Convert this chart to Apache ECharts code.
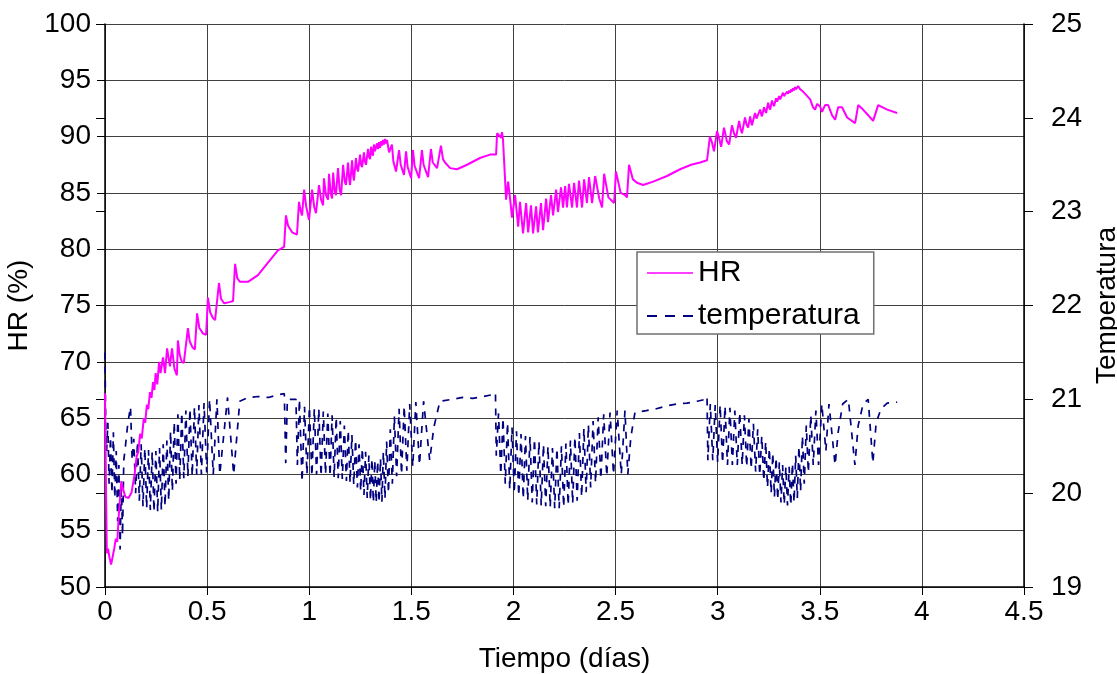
<!DOCTYPE html>
<html>
<head>
<meta charset="utf-8">
<title>HR y temperatura</title>
<script src="https://cdn.jsdelivr.net/npm/echarts@6/dist/echarts.min.js"></script>
<style>
  html, body { margin: 0; padding: 0; background: #ffffff; }
  #chart { width: 1117px; height: 674px; }
</style>
</head>
<body>
<div id="chart"></div>
<script>
// Humedad relativa (%) frente al tiempo (días)
const hrPoints = [
  [0.000,67.2],[0.004,60.0],[0.009,53.0],[0.015,53.4],[0.022,52.6],[0.030,52.0],[0.037,51.9],[0.045,53.4],
  [0.053,54.3],[0.060,54.0],[0.068,56.5],[0.080,59.4],[0.090,58.6],[0.100,58.0],[0.115,57.9],[0.130,58.4],
  [0.145,60.0],[0.155,61.6],[0.163,62.0],[0.172,63.6],[0.180,63.2],[0.190,65.0],[0.197,64.6],[0.205,66.2],
  [0.212,65.8],[0.220,67.3],[0.228,66.8],[0.235,68.2],[0.242,67.5],[0.248,69.0],[0.256,68.0],[0.265,70.0],
  [0.272,69.0],[0.284,70.4],[0.294,69.0],[0.304,71.2],[0.318,69.6],[0.328,71.2],[0.340,69.4],[0.352,68.8],
  [0.357,71.9],[0.366,70.6],[0.376,70.0],[0.386,69.9],[0.406,73.0],[0.415,71.8],[0.428,71.3],[0.440,71.1],
  [0.451,74.3],[0.462,73.0],[0.480,72.5],[0.495,72.4],[0.504,75.7],[0.515,74.4],[0.528,73.9],[0.539,73.7],
  [0.558,77.0],[0.568,75.6],[0.583,75.2],[0.610,75.3],[0.627,75.4],[0.637,78.7],[0.648,77.4],[0.661,77.1],
  [0.700,77.1],[0.749,77.7],[0.798,78.8],[0.847,79.9],[0.877,80.2],
  [0.886,83.0],[0.896,82.1],[0.916,81.5],[0.940,81.3],[0.950,84.2],[0.958,83.4],[0.965,83.0],[0.975,85.3],
  [0.985,83.8],[0.999,82.6],[1.014,85.3],[1.024,83.8],[1.033,83.2],[1.048,85.7],[1.058,84.4],[1.068,83.9],
  [1.072,86.3],[1.082,84.8],[1.092,84.4],[1.097,86.7],[1.105,85.0],[1.112,84.5],[1.117,86.8],[1.125,85.2],
  [1.131,84.8],[1.141,87.2],[1.149,85.3],[1.156,84.8],[1.166,87.5],[1.174,86.0],[1.180,85.7],[1.190,87.7],
  [1.196,86.2],[1.200,85.7],[1.210,87.9],[1.215,86.6],[1.219,86.1],[1.229,88.1],[1.234,87.2],[1.239,86.9],
  [1.249,88.4],[1.254,87.5],[1.259,87.3],[1.268,88.6],[1.273,87.8],[1.278,87.5],[1.288,88.9],[1.293,88.2],
  [1.298,88.0],[1.303,89.1],[1.308,88.5],[1.312,88.3],[1.317,89.3],[1.322,88.7],[1.327,88.6],[1.332,89.4],
  [1.337,88.9],[1.342,89.5],[1.347,89.0],[1.352,89.6],[1.357,89.2],[1.361,89.7],[1.366,89.3],[1.371,89.8],
  [1.376,89.4],[1.381,89.7],[1.391,88.6],[1.405,89.3],[1.412,87.8],[1.425,86.9],[1.440,88.8],[1.448,87.5],
  [1.464,86.6],[1.474,88.7],[1.482,87.3],[1.499,86.3],[1.508,88.8],[1.516,87.4],[1.538,86.3],[1.552,88.8],
  [1.560,87.5],[1.582,86.4],[1.596,88.9],[1.605,87.7],[1.626,87.2],[1.645,89.2],[1.655,88.0],[1.665,87.7],
  [1.690,87.2],[1.724,87.1],[1.773,87.5],[1.836,88.1],[1.885,88.4],[1.915,88.4],
  [1.920,90.3],[1.929,90.4],[1.939,89.9],[1.944,90.4],[1.949,89.7],[1.964,84.4],[1.974,86.0],[1.984,84.4],
  [1.993,82.8],[2.008,84.8],[2.023,82.0],[2.032,84.2],[2.047,81.4],[2.062,84.1],[2.072,81.5],[2.086,83.9],
  [2.096,81.4],[2.111,83.8],[2.120,81.5],[2.135,84.1],[2.145,81.7],[2.160,84.5],[2.169,82.4],[2.184,84.8],
  [2.194,83.0],[2.209,85.3],[2.218,83.3],[2.233,85.5],[2.243,83.7],[2.253,85.6],[2.262,83.7],[2.272,85.8],
  [2.287,83.7],[2.297,85.9],[2.311,83.7],[2.321,86.1],[2.336,83.7],[2.346,86.2],[2.360,84.1],[2.370,86.4],
  [2.385,84.1],[2.400,86.5],[2.420,84.5],[2.434,83.7],[2.444,86.7],[2.465,84.6],[2.493,84.1],[2.502,86.9],
  [2.525,85.0],[2.547,84.8],[2.556,84.6],[2.566,87.5],[2.585,86.2],[2.605,85.9],[2.635,85.7],[2.684,86.0],
  [2.752,86.5],[2.816,87.1],[2.870,87.5],[2.914,87.7],[2.948,87.9],
  [2.962,90.0],[2.972,89.5],[2.982,88.7],[2.997,90.5],[3.005,90.0],[3.017,89.1],[3.031,90.8],[3.045,89.6],
  [3.056,89.3],[3.070,91.0],[3.080,90.3],[3.090,89.9],[3.105,91.4],[3.112,90.7],[3.119,90.3],[3.134,91.7],
  [3.141,91.1],[3.149,90.8],[3.159,91.8],[3.164,91.3],[3.168,91.0],[3.183,92.1],[3.190,91.6],[3.198,91.5],
  [3.208,92.4],[3.213,92.0],[3.217,91.8],[3.227,92.6],[3.232,92.3],[3.237,92.1],[3.247,93.0],[3.252,92.6],
  [3.257,92.4],[3.266,93.2],[3.271,92.9],[3.276,92.7],[3.286,93.4],[3.291,93.1],[3.296,93.0],[3.301,93.6],
  [3.306,93.3],[3.311,93.2],[3.320,93.9],[3.325,93.6],[3.330,93.5],[3.340,94.0],[3.345,93.8],[3.350,94.1],
  [3.355,93.9],[3.360,94.2],[3.364,94.0],[3.369,94.3],[3.374,94.1],[3.379,94.4],[3.384,94.2],[3.394,94.5],
  [3.404,94.2],[3.418,94.0],[3.433,93.7],[3.443,93.5],[3.453,93.3],[3.467,92.6],[3.477,92.4],[3.487,92.9],
  [3.501,92.7],[3.511,92.2],[3.526,92.8],[3.541,92.8],[3.560,91.9],[3.575,91.5],[3.590,92.6],[3.609,92.6],
  [3.634,91.7],[3.673,91.2],[3.688,92.8],[3.712,92.4],[3.737,91.9],[3.761,91.4],[3.786,92.8],[3.830,92.4],
  [3.879,92.1]
];

// Temperatura frente al tiempo (días)
const tempPoints = [
  [0.000,21.50],[0.003,20.80],[0.008,20.45],[0.014,20.75],[0.020,20.10],[0.027,20.60],[0.034,20.00],[0.041,20.65],
  [0.048,19.95],[0.055,20.45],[0.062,19.70],[0.068,20.30],[0.074,19.40],[0.080,20.10],[0.086,19.55],[0.092,20.35],
  [0.100,20.50],[0.112,20.75],[0.125,20.92],[0.133,20.35],[0.141,20.58],[0.150,20.00],[0.159,20.55],[0.168,19.92],
  [0.177,20.52],[0.186,19.86],[0.195,20.48],[0.204,19.84],[0.213,20.46],[0.222,19.82],[0.231,20.44],[0.240,19.80],
  [0.249,20.45],[0.258,19.80],[0.267,20.48],[0.276,19.82],[0.285,20.52],[0.294,19.86],[0.303,20.56],[0.312,19.92],
  [0.321,20.66],[0.330,20.02],[0.339,20.76],[0.348,20.10],[0.357,20.84],[0.366,20.14],[0.376,20.86],[0.386,20.16],
  [0.396,20.88],[0.406,20.18],[0.416,20.90],[0.427,20.18],[0.438,20.92],[0.449,20.20],[0.460,20.94],[0.472,20.20],
  [0.485,20.96],[0.498,20.22],[0.512,21.00],[0.530,20.20],[0.548,21.00],[0.562,20.20],[0.600,21.02],[0.630,20.20],
  [0.660,20.98],[0.700,21.02],[0.750,21.03],[0.800,21.02],[0.850,21.05],[0.878,21.06],
  [0.885,20.32],[0.893,21.00],[0.935,21.00],[0.942,20.30],[0.952,21.00],[0.965,20.12],
  [0.977,20.92],[0.989,20.20],[1.001,20.92],[1.013,20.18],[1.025,20.90],[1.036,20.20],[1.047,20.90],[1.058,20.18],
  [1.069,20.87],[1.080,20.20],[1.091,20.85],[1.102,20.18],[1.112,20.83],[1.122,20.17],[1.132,20.81],[1.142,20.16],
  [1.152,20.77],[1.162,20.15],[1.172,20.72],[1.182,20.13],[1.191,20.67],[1.200,20.11],[1.209,20.62],[1.218,20.09],
  [1.227,20.57],[1.236,20.06],[1.244,20.52],[1.252,20.02],[1.260,20.48],[1.268,19.98],[1.276,20.44],[1.284,19.95],
  [1.292,20.40],[1.300,19.92],[1.307,20.37],[1.314,19.90],[1.321,20.35],[1.328,19.90],[1.335,20.34],[1.342,19.90],
  [1.349,20.37],[1.356,19.91],[1.363,20.44],[1.371,19.94],[1.379,20.55],[1.388,20.00],[1.397,20.68],[1.407,20.10],
  [1.417,20.82],[1.428,20.18],[1.440,20.90],[1.452,20.20],[1.465,20.93],[1.478,20.24],[1.492,20.95],[1.507,20.28],
  [1.522,20.97],[1.540,20.30],[1.560,20.98],[1.590,20.35],[1.610,20.70],[1.640,20.98],[1.700,21.00],[1.750,21.02],
  [1.800,21.01],[1.850,21.03],[1.900,21.05],[1.912,21.07],
  [1.916,20.40],[1.927,20.85],[1.938,20.20],[1.949,20.80],[1.960,20.10],[1.971,20.75],[1.982,20.04],[1.993,20.70],
  [2.004,20.00],[2.015,20.66],[2.026,19.97],[2.037,20.63],[2.048,19.94],[2.059,20.61],[2.070,19.92],[2.081,20.60],
  [2.092,19.90],[2.103,20.58],[2.114,19.88],[2.125,20.55],[2.136,19.87],[2.147,20.52],[2.158,19.86],[2.169,20.50],
  [2.180,19.85],[2.191,20.48],[2.202,19.84],[2.213,20.48],[2.224,19.84],[2.235,20.50],[2.246,19.85],[2.257,20.53],
  [2.268,19.87],[2.279,20.56],[2.290,19.89],[2.301,20.60],[2.312,19.92],[2.323,20.64],[2.334,19.96],[2.345,20.69],
  [2.356,20.01],[2.367,20.73],[2.378,20.06],[2.390,20.77],[2.402,20.11],[2.415,20.81],[2.428,20.15],[2.442,20.84],
  [2.457,20.18],[2.473,20.86],[2.490,20.20],[2.508,20.88],[2.528,20.20],[2.546,20.88],[2.560,20.20],[2.575,20.60],
  [2.595,20.86],[2.650,20.88],[2.700,20.90],[2.750,20.93],[2.800,20.95],[2.850,20.96],[2.900,20.98],[2.940,21.00],
  [2.948,21.03],
  [2.952,20.35],[2.964,20.95],[2.976,20.35],[2.988,20.94],[3.000,20.33],[3.012,20.94],[3.024,20.32],[3.036,20.93],
  [3.048,20.30],[3.060,20.91],[3.072,20.30],[3.084,20.88],[3.096,20.30],[3.108,20.86],[3.120,20.30],[3.131,20.83],
  [3.142,20.28],[3.153,20.79],[3.164,20.26],[3.175,20.74],[3.186,20.23],[3.196,20.68],[3.206,20.19],[3.216,20.61],
  [3.226,20.13],[3.235,20.55],[3.244,20.06],[3.253,20.48],[3.262,20.00],[3.270,20.43],[3.278,19.96],[3.286,20.38],
  [3.294,19.93],[3.302,20.33],[3.310,19.90],[3.318,20.30],[3.326,19.88],[3.334,20.28],[3.342,19.87],[3.350,20.28],
  [3.358,19.87],[3.366,20.32],[3.374,19.90],[3.382,20.40],[3.390,19.95],[3.398,20.50],[3.406,20.02],[3.415,20.61],
  [3.424,20.10],[3.434,20.72],[3.444,20.22],[3.456,20.83],[3.468,20.30],[3.481,20.88],[3.494,20.30],[3.510,20.95],
  [3.530,20.45],[3.545,20.95],[3.575,20.30],[3.590,20.65],[3.612,20.95],[3.640,21.00],[3.672,20.30],[3.688,20.72],
  [3.712,20.95],[3.737,21.00],[3.760,20.32],[3.776,20.75],[3.800,20.90],[3.830,20.96],[3.879,20.97]
];

const xRange = { min: 0, max: 4.5, step: 0.5 };
const hrRange = { min: 50, max: 100, step: 5 };
const tempRange = { min: 19, max: 25, step: 1 };

const FONT = '"Liberation Sans", Arial, sans-serif';
const labelStyle = { color: '#000', fontFamily: FONT, fontSize: 28 };

const chart = echarts.init(document.getElementById('chart'), null, { renderer: 'canvas' });

chart.setOption({
  animation: false,
  backgroundColor: '#ffffff',
  grid: {
    left: 105, right: 93, top: 24, bottom: 87,
    containLabel: false,
    outerBoundsMode: 'none'
  },
  legend: {
    orient: 'vertical',
    left: 637,
    top: 252,
    padding: [6, 14, 3, 9],
    itemGap: 13,
    itemWidth: 46,
    itemHeight: 14,
    icon: 'inherit',
    itemStyle: { opacity: 0 },
    backgroundColor: '#ffffff',
    borderColor: '#707070',
    borderWidth: 1.5,
    borderRadius: 0,
    textStyle: { color: '#000', fontFamily: FONT, fontSize: 30, lineHeight: 30 },
    data: [
      { name: 'HR', lineStyle: { width: 1.5 } },
      { name: 'temperatura', lineStyle: { width: 2, type: [10, 8] } }
    ]
  },
  xAxis: {
    type: 'value',
    min: xRange.min, max: xRange.max, interval: xRange.step,
    name: 'Tiempo (días)',
    nameLocation: 'middle',
    nameGap: 58,
    nameTextStyle: labelStyle,
    axisLine: { show: true, onZero: false, lineStyle: { color: '#000', width: 1.5 } },
    axisTick: { show: true, length: 8, lineStyle: { color: '#000', width: 1 } },
    axisLabel: Object.assign({ margin: 11 }, labelStyle),
    splitLine: { show: true, lineStyle: { color: '#404040', width: 1 } }
  },
  yAxis: [
    {
      type: 'value',
      position: 'left',
      min: hrRange.min, max: hrRange.max, interval: hrRange.step,
      name: 'HR (%)',
      nameLocation: 'middle',
      nameRotate: 90,
      nameGap: 72,
      nameTextStyle: labelStyle,
      axisLine: { show: true, onZero: false, lineStyle: { color: '#000', width: 1.5 } },
      axisTick: { show: true, length: 8, lineStyle: { color: '#000', width: 1 } },
      axisLabel: Object.assign({ margin: 14 }, labelStyle),
      splitLine: { show: true, lineStyle: { color: '#404040', width: 1 } }
    },
    {
      type: 'value',
      position: 'right',
      min: tempRange.min, max: tempRange.max, interval: tempRange.step,
      name: 'Temperatura',
      nameLocation: 'middle',
      nameRotate: 90,
      nameGap: 63,
      nameTextStyle: labelStyle,
      axisLine: { show: true, onZero: false, lineStyle: { color: '#000', width: 1.5 } },
      axisTick: { show: true, length: 9, lineStyle: { color: '#000', width: 1 } },
      axisLabel: Object.assign({ margin: 27 }, labelStyle),
      splitLine: { show: false }
    },
    {
      // inner half of the right-hand ticks
      type: 'value',
      position: 'right',
      min: tempRange.min, max: tempRange.max, interval: tempRange.step,
      axisLine: { show: false },
      axisTick: { show: true, inside: true, length: 9, lineStyle: { color: '#000', width: 1 } },
      axisLabel: { show: false },
      splitLine: { show: false }
    }
  ],
  series: [
    {
      name: 'HR',
      type: 'line',
      yAxisIndex: 0,
      data: hrPoints,
      symbol: 'none',
      showSymbol: false,
      smooth: false,
      color: '#ff00ff',
      lineStyle: { color: '#ff00ff', width: 2 },
      z: 3
    },
    {
      name: 'temperatura',
      type: 'line',
      yAxisIndex: 1,
      data: tempPoints,
      symbol: 'none',
      showSymbol: false,
      smooth: false,
      color: '#000080',
      lineStyle: { color: '#000080', width: 1.7, type: [7, 7] },
      z: 2
    }
  ]
});
</script>
</body>
</html>
